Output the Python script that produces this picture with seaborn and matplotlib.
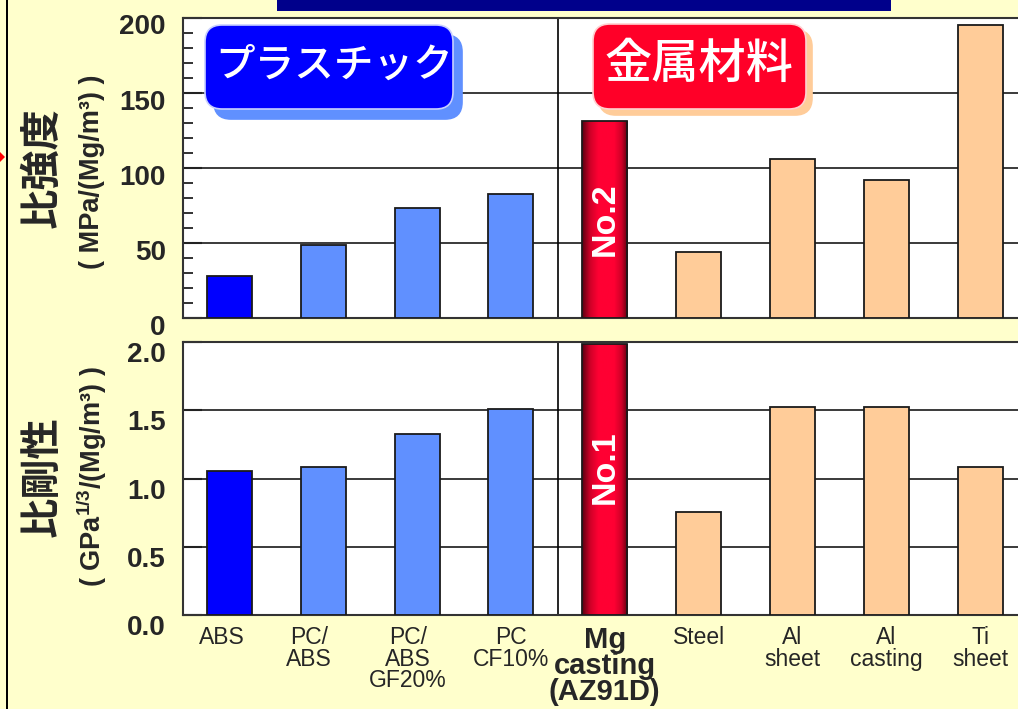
import numpy as np
import pandas as pd
import matplotlib
matplotlib.use("Agg")
import matplotlib.pyplot as plt
import matplotlib.transforms as mtrans
from matplotlib.transforms import IdentityTransform
from matplotlib.patches import FancyBboxPatch, Rectangle, Polygon
from matplotlib.ticker import MultipleLocator
from matplotlib.colors import LinearSegmentedColormap
import seaborn as sns

# ---------------- data ----------------
materials = ["ABS", "PC/ABS", "PC/ABS GF20%", "PC CF10%", "Mg casting (AZ91D)",
             "Steel", "Al sheet", "Al casting", "Ti sheet"]
tick_labels = ["ABS", "PC/\nABS", "PC/\nABS\nGF20%", "PC\nCF10%", "Mg\ncasting\n(AZ91D)",
               "Steel", "Al\nsheet", "Al\ncasting", "Ti\nsheet"]
specific_strength = [28, 48.3, 73, 82.5, 131.3, 43.6, 106, 92, 195.3]     # MPa/(Mg/m3)
specific_stiffness = [1.054, 1.088, 1.326, 1.514, 1.986, 0.756, 1.528, 1.528, 1.088]  # GPa^1/3/(Mg/m3)
bar_colors = ["#0000FF", "#6090FF", "#6090FF", "#6090FF", "#E8002A",
              "#FFCC99", "#FFCC99", "#FFCC99", "#FFCC99"]
strength_ticks = [0, 50, 100, 150, 200]
strength_ticklabels = ["0", "50", "100", "150", "200"]
stiffness_ticks = [0, 0.5, 1.0, 1.5, 2.0]
stiffness_ticklabels = ["0.0", "0.5", "1.0", "1.5", "2.0"]
rank_labels = {"strength": "No.2", "stiffness": "No.1"}
group_titles = ["プラスチック", "金属材料"]
ylabel_top = ["比強度", "( MPa/(Mg/m³) )"]
ylabel_bottom = ["比剛性", r"( GPa$^{1/3}$/(Mg/m³) )"]

# ---------------- style ----------------
sns.set_style("white")
plt.rcParams["font.family"] = ["Liberation Sans", "Noto Sans CJK JP", "DejaVu Sans"]
plt.rcParams["mathtext.default"] = "regular"

BG = "#FFFFCC"
W, H = 1018, 709
fig = plt.figure(figsize=(W / 100, H / 100), dpi=100, facecolor=BG)


def fx(px):
    return px / W


def fy(py):
    return 1 - py / H


ax_left, ax_right = 182.5, 1027.0
ax1 = fig.add_axes([fx(ax_left), fy(317.7), (ax_right - ax_left) / W, (317.7 - 17.5) / H])
ax2 = fig.add_axes([fx(ax_left), fy(615.0), (ax_right - ax_left) / W, (615.0 - 342.3) / H])

df = pd.DataFrame({"material": materials,
                   "strength": specific_strength,
                   "stiffness": specific_stiffness})
pal = dict(zip(materials, bar_colors))
mg_cmap = LinearSegmentedColormap.from_list(
    "mg", [(0, "#580010"), (0.18, "#d00028"), (0.36, "#ff0033"), (0.7, "#ff0033"),
           (0.86, "#d00028"), (1, "#5a000f")])
grad = np.linspace(0, 1, 256)[None, :]
mg_idx = materials.index("Mg casting (AZ91D)")

for ax, col, lim in [(ax1, "strength", 200), (ax2, "stiffness", 2.0)]:
    sns.barplot(data=df, x="material", y=col, hue="material", order=materials,
                hue_order=materials, palette=pal, legend=False, width=0.48,
                saturation=1, edgecolor="#1a1a1a", linewidth=1.3, ax=ax, zorder=3)
    ax.set_facecolor("white")
    ax.set_xlabel("")
    ax.set_ylabel("")
    ax.yaxis.grid(True, color="#3a3a3a", linewidth=1.4)
    ax.xaxis.grid(False)
    ax.set_axisbelow(True)
    ax.axvline(3.5, color="black", linewidth=1.2, zorder=2)
    for s in ax.spines.values():
        s.set_visible(True)
        s.set_color("#333333")
        s.set_linewidth(1.5)
    # gradient fill for Mg bar
    p = [pt for pt in ax.patches if abs(pt.get_x() + pt.get_width() / 2 - mg_idx) < 0.01][0]
    x0, w, h = p.get_x(), p.get_width(), p.get_height()
    im = ax.imshow(grad, cmap=mg_cmap, extent=[x0, x0 + w, 0, h], aspect="auto",
                   zorder=3.5, interpolation="bicubic")
    im.set_clip_path(p)
    p.set_facecolor("none")
    p.set_zorder(4)
    ax.text(mg_idx, h * (0.5 if col == "strength" else 0.547), rank_labels[col],
            rotation=90, ha="center", va="center", color="white",
            fontsize=24.5, fontweight="bold", zorder=5)
    ax.set_xlim(-0.5, 8.5)
    ax.set_ylim(0, lim)

# y ticks
ax1.set_yticks(strength_ticks)
ax1.set_yticklabels(strength_ticklabels)
ax1.yaxis.set_minor_locator(MultipleLocator(10))
ax2.set_yticks(stiffness_ticks)
ax2.set_yticklabels(stiffness_ticklabels)
for ax in (ax1, ax2):
    ax.tick_params(axis="y", which="major", direction="in", length=14, width=1.5,
                   color="#222222", labelsize=20, pad=12, left=True)
    ax.tick_params(axis="y", which="minor", direction="in", length=7, width=1.3,
                   color="#222222", left=True)
    for t in ax.get_yticklabels():
        t.set_fontweight("bold")

ax1.tick_params(axis="x", length=0, labelbottom=False)
ax2.set_xticks(range(len(materials)))
ax2.set_xticklabels(tick_labels, fontsize=16.5, linespacing=0.92)
ax2.tick_params(axis="x", length=0, pad=8)
xl = ax2.get_xticklabels()
xl[mg_idx].set_fontweight("bold")
xl[mg_idx].set_fontsize(21)
xl[mg_idx].set_linespacing(0.9)

# small offsets of tick labels (pixel-based)
for t in ax1.get_yticklabels():
    t.set_transform(t.get_transform() + mtrans.ScaledTranslation(0, -0.07, fig.dpi_scale_trans))
for t in ax2.get_yticklabels():
    t.set_transform(t.get_transform() + mtrans.ScaledTranslation(0, -0.10, fig.dpi_scale_trans))
for i, dxp in [(0, -8), (1, -14), (2, -9)]:
    xl[i].set_transform(xl[i].get_transform() + mtrans.ScaledTranslation(dxp / 100, 0, fig.dpi_scale_trans))

# y-axis titles
cjk = ["Noto Sans CJK JP", "DejaVu Sans"]
fig.text(fx(42), fy(168), ylabel_top[0], rotation=90, fontsize=29, fontweight="bold",
         family=cjk, ha="center", va="center")
fig.text(fx(92), fy(172), ylabel_top[1], rotation=90, fontsize=19.5, fontweight="bold",
         ha="center", va="center")
fig.text(fx(42), fy(477), ylabel_bottom[0], rotation=90, fontsize=29, fontweight="bold",
         family=cjk, ha="center", va="center")
fig.text(fx(92), fy(477), ylabel_bottom[1], rotation=90, fontsize=19.5, fontweight="bold",
         ha="center", va="center")


# decorations (pixel coordinates, y measured from top)
def rbox(x0, y0, x1, y1, fc, ec, z, r=17):
    patch = FancyBboxPatch((x0, H - y1), x1 - x0, y1 - y0,
                           boxstyle=f"round,pad=0,rounding_size={r}",
                           transform=IdentityTransform(), facecolor=fc, edgecolor=ec,
                           linewidth=1.2, zorder=z)
    fig.add_artist(patch)


rbox(214, 35, 462, 119, "#6090FF", "#6090FF", 5)
rbox(205, 25, 453, 109, "#0000FF", "#C8D0FF", 6)
fig.text(fx(334), fy(66), group_titles[0], color="white", fontsize=28.5, family=cjk,
         fontweight="medium", ha="center", va="center", zorder=7)
rbox(599, 30, 812, 115, "#FFCC99", "#FFCC99", 5)
rbox(593, 24, 806, 109, "#FF0028", "#FFD0D0", 6)
fig.text(fx(699), fy(64), group_titles[1], color="white", fontsize=34, family=cjk,
         fontweight="medium", ha="center", va="center", zorder=7)

fig.add_artist(Rectangle((277, H - 10.7), 614, 10.7, transform=IdentityTransform(),
                         facecolor="#00008B", edgecolor="none", zorder=5))
fig.add_artist(Rectangle((6, 0), 2.2, H, transform=IdentityTransform(),
                         facecolor="black", edgecolor="none", zorder=5))
fig.add_artist(Polygon([(0, H - 152), (5, H - 157), (0, H - 162)], closed=True,
                       transform=IdentityTransform(), facecolor="red", edgecolor="none", zorder=5))

fig.savefig("out.png", dpi=100, facecolor=fig.get_facecolor())
